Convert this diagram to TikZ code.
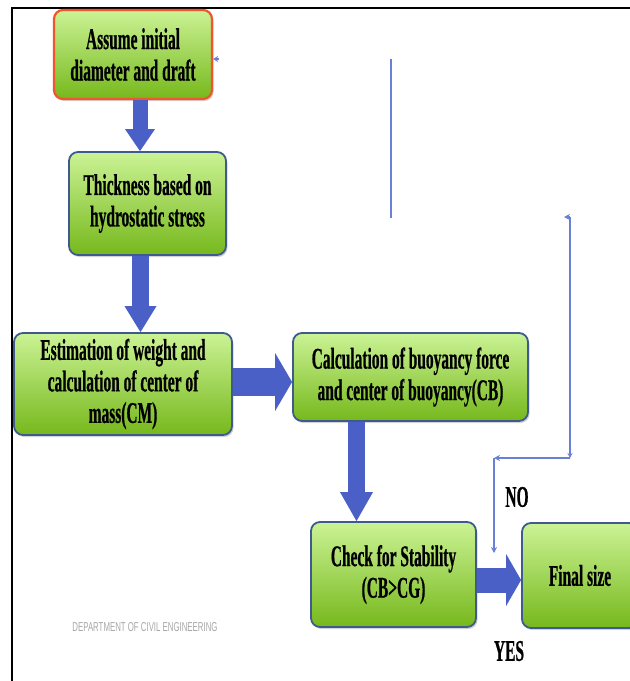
\documentclass[tikz,border=0pt]{standalone}
\usepackage{fontspec}
\setmainfont{Liberation Serif}
\newfontfamily\boxfont[FakeStretch=0.515,FakeBold=0.6]{Liberation Serif}
\newfontfamily\wmfont{Liberation Sans}
\usetikzlibrary{shadows,arrows.meta,calc}
\definecolor{gtop}{HTML}{CBF395}
\definecolor{gbot}{HTML}{76B81C}
\definecolor{bord}{HTML}{3E5A8E}
\definecolor{redb}{HTML}{F05530}
\definecolor{barrow}{HTML}{4A60C6}
\definecolor{thinb}{HTML}{6A80D6}
\tikzset{
 box/.style={rectangle, rounded corners=9pt, draw=bord, line width=1.8pt,
   top color=gtop, bottom color=gbot,
   drop shadow={shadow xshift=1.5pt, shadow yshift=-2pt, opacity=0.35},
   align=center, inner sep=0pt,
   font=\boxfont\bfseries\fontsize{30}{31.5}\selectfont},
 thinline/.style={draw=thinb, line width=1.6pt},
 lbl/.style={font=\boxfont\bfseries\fontsize{30}{31}\selectfont, inner sep=0pt},
}
\begin{document}
\begin{tikzpicture}[x=1pt,y=-1pt]
\useasboundingbox (0,0) rectangle (630,681);
\clip (0,0) rectangle (630,681);
% frame
\coordinate (fa) at (12,681);
\coordinate (fb) at (12,8);
\coordinate (fc) at (632,8);
\draw[line width=2.5pt] (fa) -- (fb) -- (fc);
% boxes
\node[box, draw=redb, line width=2.2pt, minimum width=158pt, minimum height=89pt] (b1) at (133,54.5) {Assume initial\\diameter and draft};
\node[box, minimum width=157pt, minimum height=103pt] (b2) at (147.5,203.5) {Thickness based on\\hydrostatic stress};
\node[box, minimum width=218pt, minimum height=102pt] (b3) at (123,384) {Estimation of weight and\\calculation of center of\\mass(CM)};
\node[box, minimum width=235pt, minimum height=88pt] (b4) at (410.5,377) {Calculation of buoyancy force\\and center of buoyancy(CB)};
\node[box, minimum width=165pt, minimum height=105pt] (b5) at (393.5,574.5) {Check for Stability\\(CB>CG)};
\node[box, minimum width=116pt, minimum height=105pt] (b6) at (580,575.5) {Final size};
% block arrows
\coordinate (v1) at (140,0);
\coordinate (v2) at (140.5,0);
\coordinate (v4) at (356.5,0);
\coordinate (h3) at (0,382);
\coordinate (h5) at (0,580);
\draw[line width=15pt, barrow, -{Triangle[width=30pt,length=22pt,line width=0pt]}] (v1 |- b1.south) -- (v1 |- b2.north);
\draw[line width=17pt, barrow, -{Triangle[width=32pt,length=26pt,line width=0pt]}] (v2 |- b2.south) -- (v2 |- b3.north);
\draw[line width=28pt, barrow, -{Triangle[width=58pt,length=17pt,line width=0pt]}] (b3.east |- h3) -- (b4.west |- h3);
\draw[line width=17pt, barrow, -{Triangle[width=33pt,length=29pt,line width=0pt]}] (v4 |- b4.south) -- (v4 |- b5.north);
\draw[line width=25pt, barrow, -{Triangle[width=52pt,length=15pt,line width=0pt]}] (b5.east |- h5) -- (b6.west |- h5);
% thin lines
\coordinate (t1a) at (391,59);
\coordinate (t1b) at (391,218);
\draw[thinline] (t1a) -- (t1b);
\coordinate (tA) at (219,59);
\draw[thinline, -{Stealth[length=5pt,width=6pt]}] (tA) -- (b1.east |- tA);
\coordinate (r1) at (570,217);
\coordinate (r1t) at (564,217);
\coordinate (r2) at (570,458);
\coordinate (r3) at (494,458);
\coordinate (r4) at (494,553);
\draw[thinline, -{Stealth[length=6pt,width=6pt]}] (r1) -- (r1t);
\draw[thinline, -{Stealth[length=5pt,width=5pt]}] (r1) -- (r2);
\draw[thinline, -{Stealth[length=6pt,width=6pt]}] (r2) -- (r3);
\draw[thinline, -{Stealth[length=6pt,width=6pt]}] (r3) -- (r4);
% labels
\node[lbl] (no) at (517,497) {NO};
\node[lbl] (yes) at (509,651) {YES};
\node[inner sep=0pt, text=black!35] (wm) at (145,627) {\resizebox{145pt}{9pt}{\wmfont DEPARTMENT OF CIVIL ENGINEERING}};
\end{tikzpicture}
\end{document}
